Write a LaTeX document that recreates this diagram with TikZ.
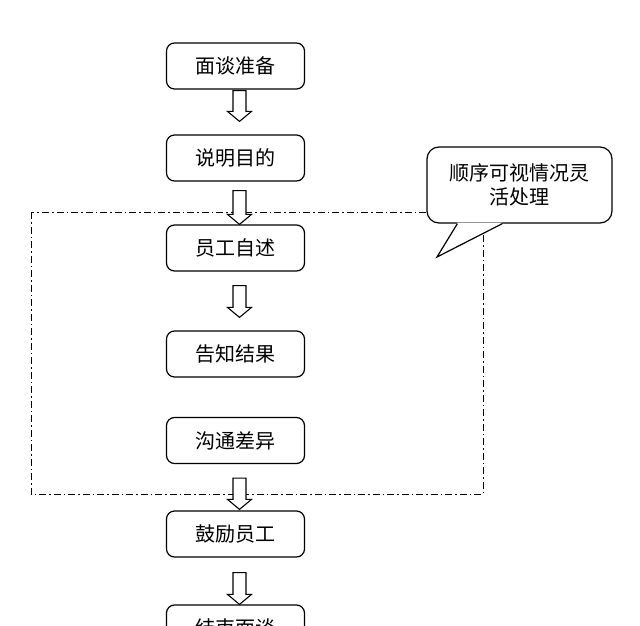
\documentclass[tikz,border=0pt]{standalone}
\usepackage{fontspec}
\newfontfamily\cjk{Noto Sans CJK SC}
\usetikzlibrary{calc}
\tikzset{
  stepbox/.style={draw=black, line width=1.2pt, rounded corners=8pt, fill=white,
    minimum width=138pt, minimum height=46pt, inner sep=0pt,
    font=\cjk\fontsize{20}{24}\selectfont},
  hollowarrow/.style={draw=black, line width=1.1pt, fill=white, line join=miter},
  frameline/.style={draw=black, line width=1pt, dash pattern=on 7pt off 3pt on 1.5pt off 3pt},
  calloutbox/.style={draw=black, line width=1.2pt, rounded corners=12pt, fill=white,
    minimum width=185pt, minimum height=76pt, inner sep=0pt, align=center,
    font=\cjk\fontsize{20}{24}\selectfont},
}
\newcommand\blkarrow[2]{%
  \draw[hollowarrow] let \p1=(#1), \p2=(#2) in
    (\x1-6.5pt,\y1) -- (\x1+6.5pt,\y1) -- (\x1+6.5pt,\y2+10pt) -- (\x1+12pt,\y2+10pt)
    -- (\x1,\y2) -- (\x1-12pt,\y2+10pt) -- (\x1-6.5pt,\y2+10pt) -- cycle;}
\begin{document}
\begin{tikzpicture}[x=1pt,y=-1pt]
\useasboundingbox (0,0) rectangle (640,626);
\clip (0,0) rectangle (640,626);
\fill[white] (0,0) rectangle (640,626);

% dash-dot group frame
\draw[frameline] (31,212) rectangle (483,494);

% steps
\node[stepbox] (n1) at (235.5,66) {面谈准备};
\node[stepbox] (n2) at (235.5,158) {说明目的};
\node[stepbox] (n3) at (235.5,248) {员工自述};
\node[stepbox] (n4) at (235.5,354) {告知结果};
\node[stepbox] (n5) at (235.5,440.5) {沟通差异};
\node[stepbox] (n6) at (235.5,534) {鼓励员工};
\node[stepbox] (n7) at (235.5,628) {结束面谈};

% arrow end points
\coordinate (a1s) at ($(n1.south)+(4,1)$);
\coordinate (a1e) at ($(n2.north)+(4,-13)$);
\coordinate (a2s) at ($(n2.south)+(4,9)$);
\coordinate (a2e) at ($(n3.north)+(4,0)$);
\coordinate (a3s) at ($(n3.south)+(4,14)$);
\coordinate (a3e) at ($(n4.north)+(4,-13)$);
\coordinate (a4s) at ($(n5.south)+(4,14)$);
\coordinate (a4e) at ($(n6.north)+(4,-1)$);
\coordinate (a5s) at ($(n6.south)+(4,15)$);
\coordinate (a5e) at ($(n7.north)+(4,0)$);

\blkarrow{a1s}{a1e}
\blkarrow{a2s}{a2e}
\blkarrow{a3s}{a3e}
\blkarrow{a4s}{a4e}
\blkarrow{a5s}{a5e}

% callout
\node[calloutbox] (c) at (519.5,185) {顺序可视情况灵\\活处理};
\coordinate (tip) at (437,257);
\fill[white] ($(c.south west)+(31,-0.9)$) -- (tip) -- ($(c.south west)+(76,-0.9)$) -- cycle;
\draw[black, line width=1.2pt, line join=miter] ($(c.south west)+(31,0)$) -- (tip) -- ($(c.south west)+(76,0)$);
\end{tikzpicture}
\end{document}
